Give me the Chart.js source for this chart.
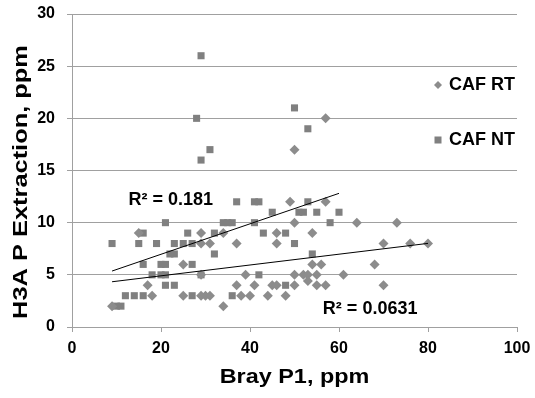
<!DOCTYPE html>
<html lang="en">
<head>
    <meta charset="UTF-8">
    <title>H3A P vs Bray P1</title>
    <script src="https://cdn.jsdelivr.net/npm/chart.js"></script>
    <style>
        body { margin: 0; background: #fff; }
        #wrap { width: 535px; height: 398px; }
    </style>
</head>
<body>
    <div id="wrap"><canvas id="chart" width="535" height="398"></canvas></div>
    <script>
        // CAF RT (diamonds)
        const rtX = [57, 50, 15, 29, 29, 25, 29, 17, 18, 25, 29, 30, 9,
            49, 57, 50, 34, 46, 54, 31, 37, 46, 54, 56, 39, 50, 52, 53, 55, 61, 37, 41, 45, 46, 50, 53, 55, 57, 31, 38, 40, 44, 48, 34,
            64, 73, 70, 76, 80, 68, 70];
        const rtY = [20, 17, 9, 9, 8, 6, 5, 4, 3, 3, 3, 3, 2,
            12, 12, 10, 9, 9, 9, 8, 8, 8, 6, 6, 5, 5, 5, 5, 5, 5, 4, 4, 4, 4, 4, 4.4, 4, 4, 3, 3, 3, 3, 3, 2,
            10, 10, 8, 8, 8, 6, 4];

        // CAF NT (squares)
        const ntX = [29, 28, 31, 29, 50, 53,
            21, 16, 26, 9, 15, 19, 23, 25, 27, 22, 23, 16, 20, 21, 27, 18, 20, 21, 29, 21, 23, 12, 14, 16, 27, 10, 11,
            37, 41, 42, 53, 45, 51, 52, 55, 60, 34, 35, 36, 41, 58, 32, 43, 48, 50, 32, 54, 42, 48, 36];
        const ntY = [26, 20, 17, 16, 21, 19,
            10, 9, 9, 8, 8, 8, 8, 8, 8, 7, 7, 6, 6, 6, 6, 5, 5, 5, 5, 4, 4, 3, 3, 3, 3, 2, 2,
            12, 12, 12, 12, 11, 11, 11, 11, 11, 10, 10, 10, 10, 10, 9, 9, 9, 8, 7, 7, 5, 4, 3];

        // linear trend lines [slope, intercept] and R² labels
        const rtTrend = [0.0518, 3.87];
        const ntTrend = [0.146, 4.05];
        const r2Labels = ['R² = 0.0631', 'R² = 0.181'];
        const seriesNames = ['CAF RT', 'CAF NT'];

        const FONT = '"Liberation Sans", Arial, sans-serif';

        function toPoints(xs, ys) {
            return xs.map((x, i) => ({ x: x, y: ys[i] }));
        }
        function trendPoints(xs, coef) {
            const lo = Math.min(...xs), hi = Math.max(...xs);
            return [{ x: lo, y: coef[0] * lo + coef[1] }, { x: hi, y: coef[0] * hi + coef[1] }];
        }

        const extras = {
            id: 'extras',
            afterDraw(chart) {
                const ctx = chart.ctx;
                const xs = chart.scales.x, ys = chart.scales.y;
                const area = chart.chartArea;
                ctx.save();
                ctx.fillStyle = '#000';
                ctx.textBaseline = 'middle';

                // R² labels
                ctx.font = 'bold 18px ' + FONT;
                ctx.textAlign = 'center';
                ctx.fillText(r2Labels[0], xs.getPixelForValue(67), ys.getPixelForValue(1.7));
                ctx.fillText(r2Labels[1], xs.getPixelForValue(22.2), ys.getPixelForValue(12.2));

                // legend
                ctx.textAlign = 'left';
                ctx.fillText(seriesNames[0], 449, 85);
                ctx.fillText(seriesNames[1], 449, 140);
                ctx.fillStyle = '#8c8c8c';
                ctx.beginPath();
                ctx.moveTo(438, 81); ctx.lineTo(442, 85); ctx.lineTo(438, 89); ctx.lineTo(434, 85);
                ctx.closePath(); ctx.fill();
                ctx.fillStyle = '#808080';
                ctx.fillRect(434.5, 136.5, 7, 7);

                // axis titles
                ctx.fillStyle = '#000';
                ctx.font = 'bold 20px ' + FONT;
                ctx.textAlign = 'center';
                ctx.save();
                ctx.translate((area.left + area.right) / 2, 377);
                ctx.scale(1.17, 1);
                ctx.fillText('Bray P1, ppm', 0, 0);
                ctx.restore();

                ctx.save();
                ctx.translate(21, 182);
                ctx.rotate(-Math.PI / 2);
                ctx.scale(1.27, 1);
                ctx.fillText('H3A P Extraction, ppm', 0, 0);
                ctx.restore();
                ctx.restore();
            }
        };

        new Chart(document.getElementById('chart'), {
            type: 'scatter',
            data: {
                datasets: [
                    {
                        label: 'RT trend',
                        data: trendPoints(rtX, rtTrend),
                        showLine: true,
                        borderColor: '#000',
                        borderWidth: 1,
                        pointRadius: 0
                    },
                    {
                        label: 'NT trend',
                        data: trendPoints(ntX, ntTrend),
                        showLine: true,
                        borderColor: '#000',
                        borderWidth: 1,
                        pointRadius: 0
                    },
                    {
                        label: seriesNames[0],
                        data: toPoints(rtX, rtY),
                        pointStyle: 'rectRot',
                        pointRadius: 5,
                        backgroundColor: '#8c8c8c',
                        borderColor: '#8c8c8c',
                        borderWidth: 0
                    },
                    {
                        label: seriesNames[1],
                        data: toPoints(ntX, ntY),
                        pointStyle: 'rect',
                        pointRadius: 5,
                        backgroundColor: '#808080',
                        borderColor: '#808080',
                        borderWidth: 0
                    }
                ]
            },
            options: {
                responsive: false,
                animation: false,
                layout: { padding: { left: 0, right: 18, top: 14, bottom: 0 } },
                plugins: { legend: { display: false }, tooltip: { enabled: false } },
                scales: {
                    x: {
                        type: 'linear',
                        min: 0, max: 100,
                        afterFit: (s) => { s.height = 71; s.paddingLeft = 0; s.paddingRight = 0; },
                        ticks: { stepSize: 20, color: '#000', padding: 7, font: { family: FONT, size: 16, weight: 'bold' } },
                        grid: { drawOnChartArea: false, tickLength: 5, color: '#a0a0a0' },
                        border: { color: '#a0a0a0' }
                    },
                    y: {
                        min: 0, max: 30,
                        afterFit: (s) => { s.width = 72; s.paddingTop = 0; s.paddingBottom = 0; },
                        ticks: { stepSize: 5, color: '#000', padding: 12, font: { family: FONT, size: 16, weight: 'bold' } },
                        grid: { tickLength: 5, color: '#a0a0a0' },
                        border: { color: '#a0a0a0' }
                    }
                }
            },
            plugins: [extras]
        });
    </script>
</body>
</html>
